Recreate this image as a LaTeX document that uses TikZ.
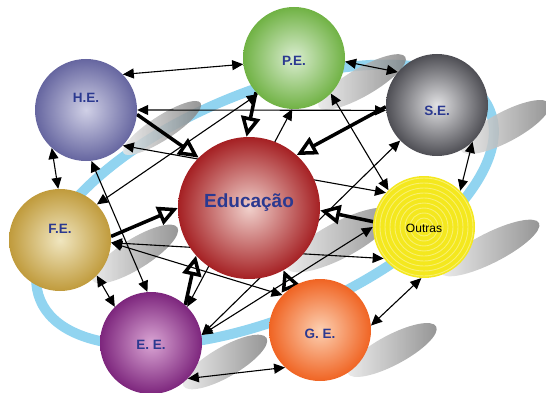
\documentclass[tikz,border=0pt]{standalone}
\usepackage{fontspec}
\setsansfont{Liberation Sans}
\usetikzlibrary{arrows.meta}
\pgfdeclarelayer{bg}
\pgfdeclarelayer{links}
\pgfsetlayers{bg,links,main}
\definecolor{navy}{RGB}{43,57,144}
\definecolor{ringblue}{RGB}{145,212,240}
\definecolor{heOut}{RGB}{102,102,160}\definecolor{heIn}{RGB}{208,208,230}
\definecolor{peOut}{RGB}{112,178,68}\definecolor{peIn}{RGB}{218,237,208}
\definecolor{seOut}{RGB}{78,78,84}\definecolor{seIn}{RGB}{226,226,228}
\definecolor{eduOut}{RGB}{165,32,35}\definecolor{eduIn}{RGB}{240,208,203}
\definecolor{feOut}{RGB}{192,155,60}\definecolor{feIn}{RGB}{240,230,192}
\definecolor{eeOut}{RGB}{125,38,125}\definecolor{eeIn}{RGB}{218,165,212}
\definecolor{geOut}{RGB}{240,100,35}\definecolor{geIn}{RGB}{252,208,178}
\definecolor{ouFill}{RGB}{244,232,30}\definecolor{ouRing}{RGB}{249,240,110}

\begin{document}
\begin{tikzpicture}[x=1pt,y=-1pt,
  ent/.style={circle,minimum size=102pt,inner sep=0pt,text height=10pt,text depth=0pt,
    font=\sffamily\bfseries\fontsize{13.5}{13.5}\selectfont,text=navy},
  shd/.style={left color=black!8,right color=black!50,opacity=.85},
  link/.style={<->,>={Triangle[length=11pt,width=10pt]},line width=1.1pt},
  push/.style={-{Triangle[open,length=20pt,width=19pt]},line width=3.5pt}]
\useasboundingbox (0,0) rectangle (546,393);

\node[ent,inner color=heIn,outer color=heOut] (he) at (86,110) {\raisebox{13pt}{H.E.}};
\node[ent,inner color=peIn,outer color=peOut] (pe) at (294,58) {\raisebox{-3pt}{P.E.}};
\node[ent,inner color=seIn,outer color=seOut] (se) at (437,105) {\raisebox{-6pt}{S.E.}};
\node[ent,inner color=feIn,outer color=feOut] (fe) at (60,240) {\raisebox{12pt}{F.E.}};
\node[ent,inner color=eeIn,outer color=eeOut] (ee) at (151,343) {\raisebox{-1pt}{E. E.}};
\node[ent,inner color=geIn,outer color=geOut] (ge) at (320,330) {\raisebox{-3pt}{G. E.}};
\node[ent,fill=ouFill,text=black,font=\sffamily\fontsize{12}{12}\selectfont,
  path picture={\foreach \r in {4,9,...,49}
    \draw[ouRing,line width=.9pt] (path picture bounding box.center) circle[radius=\r];}]
  (ou) at (424,227) {Outras};
\node[ent,minimum size=142pt,text height=13pt,inner color=eduIn,outer color=eduOut,
  font=\sffamily\bfseries\fontsize{19}{19}\selectfont] (edu) at (249,208) {\raisebox{7pt}{Educação}};

\begin{pgfonlayer}{bg}
\draw[ringblue,line width=10pt,rotate around={23:(265,205)}] (265,205) ellipse [x radius=244,y radius=112];
\foreach \cx/\cy/\l/\t/\a in {162/128/46/12/33,362/82/50/14/30,505/127/50/15/28,340/240/60/18/28,
  135/254/50/15/32,490/248/55/15/27,225/362/48/15/30,392/350/50/15/28}
  \shade[shd,rotate around={\a:(\cx,\cy)}] (\cx,\cy) ellipse [x radius=\l,y radius=\t];
\end{pgfonlayer}

\begin{pgfonlayer}{links}
% ring neighbours
\draw[link] (he.44) -- (pe.187);
\draw[link] (pe.356) -- (se.140);
\draw[link] (se.314) -- (ou.45);
\draw[link] (ou.267) -- (ge.5);
\draw[link] (ge.227) -- (ee.316);
\draw[link] (ee.135) -- (fe.316);
\draw[link] (fe.92) -- (he.228);
% cross links
\draw[link] (he.0) -- (se.186);
\draw[link] (he.316) -- (ou.138);
\draw[link] (he.276) -- (ee.94);
\draw[link] (fe.44) -- (pe.225);
\draw[link] (fe.-3) -- (ou.218);
\draw[link] (fe.-3) -- (ge.137);
\draw[link] (pe.268) -- (ee.45);
\draw[link] (pe.316) -- (ou.134);
\draw[link] (se.224) -- (ee.9);
\draw[link] (ou.180) -- (ee.9);
% into the centre
\draw[push] (he.-5) -- (edu.135);
\draw[push] (pe.222) -- (edu.92);
\draw[push] (se.182) -- (edu.48);
\draw[push] (ou.174) -- (edu.-2);
\draw[push] (fe.4) -- (edu.180);
\draw[push] (ee.48) -- (edu.222);
\draw[push] (ge.125) -- (edu.299);
\end{pgfonlayer}
\end{tikzpicture}
\end{document}
